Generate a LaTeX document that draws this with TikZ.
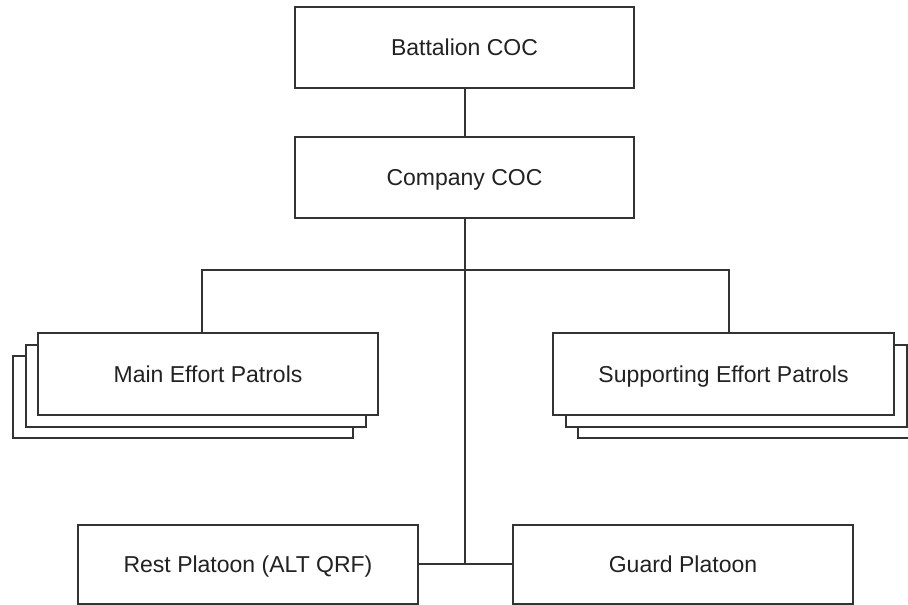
\documentclass[tikz,border=0pt]{standalone}
\usepackage{fontspec}
\setmainfont{Liberation Sans}
\definecolor{linec}{HTML}{333333}
\definecolor{textc}{HTML}{222222}
\begin{document}
\begin{tikzpicture}[x=1pt,y=-1pt,
  box/.style={draw=linec, line width=2pt, fill=white, inner sep=0pt,
    minimum width=340pt, minimum height=81pt, text=textc,
    text height=16.5pt, text depth=0pt,
    font=\fontsize{23}{27}\selectfont},
  conn/.style={draw=linec, line width=2pt}]
\useasboundingbox (0,0) rectangle (908,605);
\clip (0,0) rectangle (908,605);
% top boxes
\node[box, minimum width=339pt] (bat) at (464.5,47.5) {Battalion COC};
\node[box, minimum width=339pt] (com) at (464.5,177.5) {Company COC};
% main effort stack
\node[box, minimum height=82pt] (main3) at (183,397) {};
\node[box, minimum height=82pt] (main2) at (195.5,385.5) {};
\node[box, minimum height=82pt] (main) at (208,374) {Main Effort Patrols};
% supporting effort stack
\node[box, minimum width=341pt, minimum height=82pt] (sup3) at (748.5,397) {};
\node[box, minimum width=341pt, minimum height=82pt] (sup2) at (736,385.5) {};
\node[box, minimum width=341pt, minimum height=82pt] (sup) at (723.5,374) {Supporting Effort Patrols};
% bottom boxes
\node[box, minimum height=79pt] (rest) at (248,564) {Rest Platoon (ALT QRF)};
\node[box, minimum height=79pt] (guard) at (683,564) {Guard Platoon};
% connectors
\coordinate (jn) at (464.5,270);
\draw[conn] (bat.south) -- (com.north);
\draw[conn] (com.south) -- (com.south |- rest.east);
\draw[conn] (rest.east) -- (guard.west);
\draw[conn] ([xshift=-6pt]main.north) |- (jn) -| ([xshift=5pt]sup.north);
\end{tikzpicture}
\end{document}
